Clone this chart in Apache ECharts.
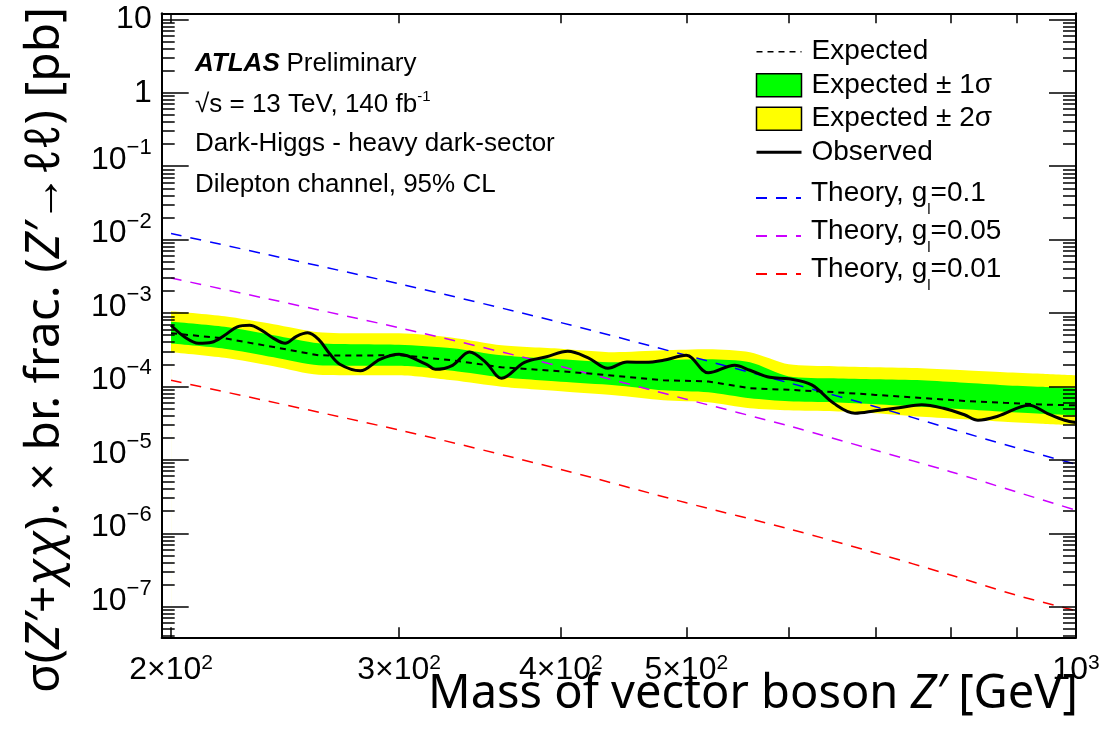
<!DOCTYPE html>
<html>
<head>
<meta charset="utf-8">
<title>Dark-Higgs heavy dark-sector, dilepton limits</title>
<script src="https://cdn.jsdelivr.net/npm/echarts@6.0.0/dist/echarts.min.js"></script>
<style>
  html, body { margin: 0; padding: 0; background: #fff; }
  #chart { width: 1115px; height: 743px; }
</style>
</head>
<body>
<div id="chart"></div>
<script>
// --- data (masses in GeV, cross sections in pb) ---
var massObs = [200, 205, 210, 215, 220, 225, 230, 235, 240, 245, 250, 255, 260, 265, 270, 280, 290, 300,
  315, 320, 330, 340, 350, 360, 375, 390, 405, 420, 435, 450, 465, 480, 500, 520, 545, 560, 580, 600,
  625, 650, 675, 700, 730, 760, 790, 820, 840, 870, 920, 950, 980, 1000];
var observed = [6.80e-4, 4.67e-4, 3.87e-4, 3.99e-4, 4.97e-4, 6.49e-4, 6.80e-4, 5.81e-4, 4.52e-4, 3.87e-4,
  4.82e-4, 5.37e-4, 4.38e-4, 2.83e-4, 2.00e-4, 1.63e-4, 2.34e-4, 2.74e-4,
  2.00e-4, 1.71e-4, 1.94e-4, 2.94e-4, 2.13e-4, 1.29e-4, 2.13e-4, 2.53e-4, 3.01e-4, 2.45e-4, 1.77e-4,
  2.15e-4, 2.13e-4, 2.27e-4, 2.65e-4, 1.53e-4, 1.94e-4, 1.66e-4, 1.33e-4, 1.27e-4,
  1.05e-4, 5.89e-5, 4.31e-5, 4.66e-5, 5.12e-5, 5.62e-5, 5.04e-5, 4.11e-5, 3.46e-5, 3.92e-5, 5.53e-5,
  4.31e-5, 3.46e-5, 3.23e-5];

var massBand = [200, 220, 240, 260, 280, 300, 330, 360, 400, 440, 480, 520, 560, 600, 650, 700, 760, 820, 880, 940, 1000];
var expected = [5.29e-4, 4.52e-4, 3.44e-4, 2.65e-4, 2.63e-4, 2.67e-4, 2.27e-4, 1.82e-4, 1.61e-4, 1.40e-4,
  1.21e-4, 1.17e-4, 9.43e-5, 9.00e-5, 8.37e-5, 7.67e-5, 6.94e-5, 6.35e-5, 5.97e-5, 5.67e-5, 5.53e-5];
var band2Up = [1.055e-3, 9.02e-4, 7.02e-4, 5.46e-4, 5.29e-4, 5.29e-4, 4.60e-4, 3.63e-4, 3.26e-4, 2.92e-4,
  3.10e-4, 3.20e-4, 2.92e-4, 2.00e-4, 1.88e-4, 1.82e-4, 1.77e-4, 1.66e-4, 1.56e-4, 1.49e-4, 1.42e-4];
var band1Up = [7.59e-4, 6.49e-4, 4.97e-4, 3.87e-4, 3.75e-4, 3.69e-4, 3.31e-4, 2.65e-4, 2.34e-4, 2.13e-4,
  2.27e-4, 2.34e-4, 2.13e-4, 1.37e-4, 1.29e-4, 1.25e-4, 1.21e-4, 1.12e-4, 1.04e-4, 9.89e-5, 9.43e-5];
var band1Dn = [3.83e-4, 3.26e-4, 2.49e-4, 1.94e-4, 1.91e-4, 1.91e-4, 1.63e-4, 1.33e-4, 1.16e-4, 1.04e-4,
  8.86e-5, 8.32e-5, 6.89e-5, 6.27e-5, 6.08e-5, 5.71e-5, 5.28e-5, 4.88e-5, 4.51e-5, 4.24e-5, 4.04e-5];
var band2Dn = [2.92e-4, 2.45e-4, 1.88e-4, 1.44e-4, 1.42e-4, 1.42e-4, 1.21e-4, 9.89e-5, 8.58e-5, 7.57e-5,
  6.47e-5, 6.08e-5, 5.04e-5, 4.73e-5, 4.59e-5, 4.31e-5, 3.86e-5, 3.57e-5, 3.30e-5, 3.10e-5, 2.96e-5];

var massTheory = [200, 300, 400, 500, 600, 700, 800, 900, 1000];
var theory01 = [1.21e-2, 2.50e-3, 7.40e-4, 2.65e-4, 1.12e-4, 5.30e-5, 2.65e-5, 1.45e-5, 8.70e-6];
var theory005 = [3.00e-3, 6.30e-4, 1.87e-4, 6.70e-5, 2.90e-5, 1.35e-5, 6.90e-6, 3.65e-6, 2.06e-6];
var theory001 = [1.21e-4, 2.55e-5, 7.40e-6, 2.60e-6, 1.15e-6, 5.40e-7, 2.70e-7, 1.43e-7, 8.80e-8];

var xTickMasses = [200, 300, 400, 500, 600, 700, 800, 900, 1000];
var xLabelMasses = [200, 300, 400, 500, 1000];
var yDecades = [-7, -6, -5, -4, -3, -2, -1, 0, 1];

// --- helpers ---
var lg = Math.log10;
var xMin = lg(196.7), xMax = 3;
var yMin = -7.417, yMax = 1.082;

function pts(ms, vs) {
  return ms.map(function (m, i) { return [lg(m), lg(vs[i])]; });
}

var yMinor = [];
for (var e = -8; e <= 1; e++) {
  for (var k = 2; k <= 9; k++) {
    var v = e + lg(k);
    if (v > yMin && v < yMax) yMinor.push(v);
  }
}

var FONT = 'Liberation Sans, Arial, Helvetica, sans-serif';
var TITLE_FONT = 'Noto Sans, Open Sans, sans-serif';

function yAxisDef(pos, major, labels) {
  return {
    type: 'value', position: pos, offset: 0, min: yMin, max: yMax, z: 10,
    axisLine: { show: major, onZero: false, lineStyle: { color: '#000', width: 2 } },
    axisTick: {
      show: true, inside: true, length: major ? 27 : 13,
      customValues: major ? yDecades : yMinor,
      lineStyle: { color: '#000', width: 1.5 }
    },
    axisLabel: labels ? {
      show: true, margin: 10, customValues: yDecades,
      formatter: function (val) {
        var n = Math.round(val);
        if (n === 0) return '{c|1}';
        if (n === 1) return '{c|10}';
        return '{b|10}{s|' + (n < 0 ? '\u2212' : '') + Math.abs(n) + '}';
      },
      rich: {
        c: { fontSize: 32, lineHeight: 32, fontFamily: FONT, color: '#000' },
        b: { fontSize: 32, lineHeight: 32, fontFamily: FONT, color: '#000', padding: [0, 0, 6, 0], verticalAlign: 'bottom' },
        s: { fontSize: 22, lineHeight: 22, fontFamily: FONT, color: '#000', padding: [0, 0, 23, 0], verticalAlign: 'bottom' }
      }
    } : { show: false },
    splitLine: { show: false }
  };
}

function xAxisDef(pos, labels) {
  return {
    type: 'value', position: pos, min: xMin, max: xMax, z: 10,
    axisLine: { show: true, onZero: false, lineStyle: { color: '#000', width: 2 } },
    axisTick: {
      show: true, inside: true, length: 10,
      customValues: xTickMasses.map(lg),
      lineStyle: { color: '#000', width: 1.5 }
    },
    axisLabel: labels ? {
      show: true, margin: 19, customValues: xLabelMasses.map(lg),
      formatter: function (val) {
        var m = Math.round(Math.pow(10, val));
        if (m === 1000) return '{b|10}{s|3}';
        return '{b|' + Math.round(m / 100) + '\u00d710}{s|2}';
      },
      rich: {
        b: { fontSize: 32, lineHeight: 32, fontFamily: FONT, color: '#000', padding: [0, 0, 2, 0], verticalAlign: 'bottom' },
        s: { fontSize: 21, lineHeight: 21, fontFamily: FONT, color: '#000', padding: [0, 0, 15, 0], verticalAlign: 'bottom' }
      }
    } : { show: false },
    splitLine: { show: false }
  };
}

// filled curve down to the bottom of the frame; painted top-down to form the bands
function bandSeries(name, data, color) {
  return {
    name: name, type: 'line', data: data, symbol: 'none', silent: true, z: 1,
    smooth: 0.25,
    lineStyle: { width: 0, opacity: 0 },
    itemStyle: { color: color },
    areaStyle: { color: color, opacity: 1, origin: 'start' }
  };
}

function lineSeries(name, data, color, width, type, smooth) {
  return {
    name: name, type: 'line', data: data, symbol: 'none', silent: true,
    smooth: smooth, z: 3,
    itemStyle: { color: color },
    lineStyle: { color: color, width: width, type: type }
  };
}

// legend entry for a line series: keep the line, hide the marker dot
function lineItem(name, width) {
  var item = { name: name, itemStyle: { opacity: 0 } };
  if (width) item.lineStyle = { width: width };
  return item;
}

var chart = echarts.init(document.getElementById('chart'));

chart.setOption({
  animation: false,
  backgroundColor: '#fff',
  grid: { left: 161.7, right: 39, top: 13.3, bottom: 105.7, containLabel: false, outerBoundsMode: 'none' },
  xAxis: [xAxisDef('bottom', true), xAxisDef('top', false)],
  yAxis: [yAxisDef('left', true, true), yAxisDef('left', false, false),
          yAxisDef('right', true, false), yAxisDef('right', false, false)],
  legend: [
    {
      orient: 'vertical', left: 750, top: 30, padding: 5,
      itemWidth: 45, itemHeight: 23, itemGap: 0, selectedMode: false,
      textStyle: { fontSize: 28, lineHeight: 33.5, fontFamily: FONT, color: '#000', padding: [0, 0, 0, 5] },
      data: [
        lineItem('Expected', 1.5),
        { name: 'Expected \u00b1 1\u03c3', icon: 'rect', itemStyle: { color: '#00ff00', borderColor: '#000', borderWidth: 1.5 } },
        { name: 'Expected \u00b1 2\u03c3', icon: 'rect', itemStyle: { color: '#ffff00', borderColor: '#000', borderWidth: 1.5 } },
        lineItem('Observed', 3)
      ]
    },
    {
      orient: 'vertical', left: 750, top: 167, padding: 5,
      itemWidth: 45, itemHeight: 23, itemGap: -7, selectedMode: false,
      textStyle: {
        fontSize: 28, fontFamily: FONT, color: '#000', padding: [0, 0, 0, 5],
        rich: {
          t: { fontSize: 28, lineHeight: 38, fontFamily: FONT, color: '#000', verticalAlign: 'top' },
          sub: { fontSize: 15, lineHeight: 15, fontFamily: FONT, color: '#000', padding: [30, 0, 0, 0], verticalAlign: 'bottom' }
        }
      },
      formatter: function (name) {
        var m = name.match(/^Theory, g_l=(.*)$/);
        return m ? '{t|Theory, g}{sub|l}{t|=' + m[1] + '}' : name;
      },
      data: [
        lineItem('Theory, g_l=0.1'),
        lineItem('Theory, g_l=0.05'),
        lineItem('Theory, g_l=0.01')
      ]
    }
  ],
  graphic: [
    { type: 'text', x: 195, y: 64, z: 20,
      style: { text: '{a|ATLAS}  {p|Preliminary}', verticalAlign: 'middle', align: 'left',
        rich: {
          a: { fontSize: 26, fontFamily: FONT, fontWeight: 'bold', fontStyle: 'italic', fill: '#000' },
          p: { fontSize: 26, fontFamily: FONT, fill: '#000' }
        } } },
    { type: 'text', x: 195, y: 105, z: 20,
      style: { text: '{p|\u221as = 13 TeV, 140 fb}{s|-1}', verticalAlign: 'middle', align: 'left',
        rich: {
          p: { fontSize: 26, lineHeight: 26, fontFamily: FONT, fill: '#000', verticalAlign: 'bottom' },
          s: { fontSize: 15, lineHeight: 15, fontFamily: FONT, fill: '#000', padding: [0, 0, 14, 0], verticalAlign: 'bottom' }
        } } },
    { type: 'text', x: 195, y: 144, z: 20,
      style: { text: 'Dark-Higgs - heavy dark-sector', fontSize: 26, fontFamily: FONT, fill: '#000',
        verticalAlign: 'middle', align: 'left' } },
    { type: 'text', x: 195, y: 185, z: 20,
      style: { text: 'Dilepton channel, 95% CL', fontSize: 26, fontFamily: FONT, fill: '#000',
        verticalAlign: 'middle', align: 'left' } },
    { type: 'text', x: 1078, y: 695, z: 20,
      style: { text: '{n|Mass of vector boson }{i|Z\u2032}{n| [GeV]}', align: 'right', verticalAlign: 'middle',
        rich: {
          n: { fontSize: 47, fontFamily: TITLE_FONT, fill: '#000' },
          i: { fontSize: 47, fontFamily: TITLE_FONT, fontStyle: 'italic', fill: '#000' }
        } } },
    { type: 'text', x: 45, y: 350, rotation: Math.PI / 2, z: 20,
      style: { text: '{n|\u03c3(}{i|Z\u2032}{n|+}{i|\u03c7\u03c7}{n|). \u00d7 br. frac. (}{i|Z\u2032}{n|\u2192\u2113\u2113) [pb]}',
        align: 'center', verticalAlign: 'middle',
        rich: {
          n: { fontSize: 48, fontFamily: TITLE_FONT, fill: '#000' },
          i: { fontSize: 48, fontFamily: TITLE_FONT, fontStyle: 'italic', fill: '#000' }
        } } }
  ],
  series: [
    bandSeries('Expected \u00b1 2\u03c3', pts(massBand, band2Up), '#ffff00'),
    bandSeries('Expected \u00b1 1\u03c3', pts(massBand, band1Up), '#00ff00'),
    bandSeries('Expected \u00b1 2\u03c3', pts(massBand, band1Dn), '#ffff00'),
    bandSeries('below band', pts(massBand, band2Dn), '#ffffff'),
    lineSeries('Theory, g_l=0.1', pts(massTheory, theory01), '#0000ff', 1.5, [11, 9], 0.3),
    lineSeries('Theory, g_l=0.05', pts(massTheory, theory005), '#cc00ff', 1.5, [11, 9], 0.3),
    lineSeries('Theory, g_l=0.01', pts(massTheory, theory001), '#ff0000', 1.5, [11, 9], 0.3),
    lineSeries('Expected', pts(massBand, expected), '#000000', 2, [6, 5], false),
    lineSeries('Observed', pts(massObs, observed), '#000000', 3, 'solid', 0.35)
  ]
});
</script>
</body>
</html>
